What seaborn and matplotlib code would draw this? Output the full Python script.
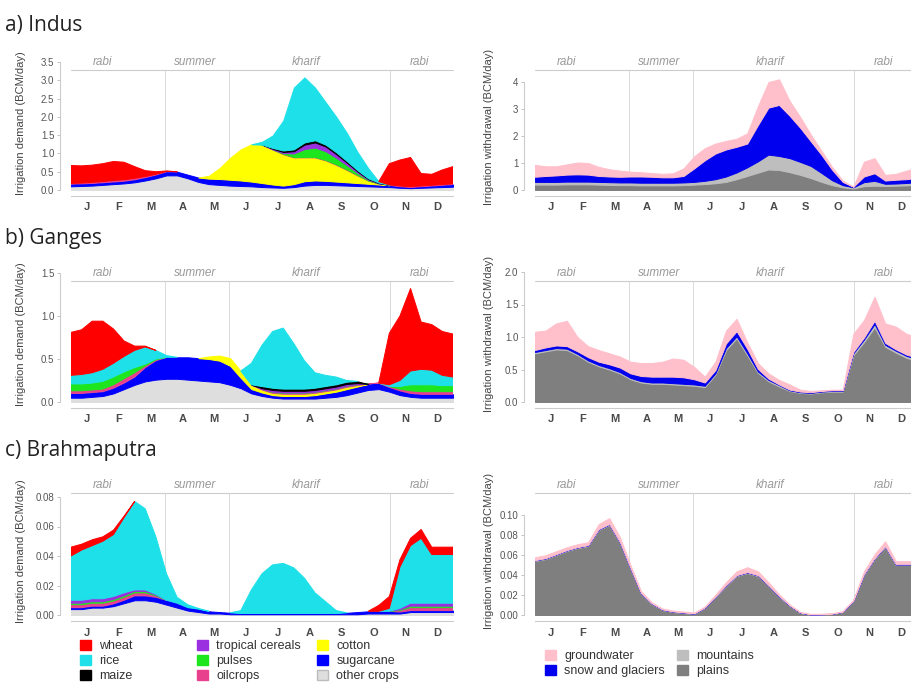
import numpy as np
import matplotlib
matplotlib.use("Agg")
import matplotlib.pyplot as plt
import seaborn as sns
from matplotlib.patches import Patch
from matplotlib.ticker import FormatStrFormatter

sns.set_theme(style="white")
plt.rcParams["font.family"] = ["Liberation Sans", "DejaVu Sans"]

# sampling: every third of a month from 1 Jan to 31 Dec (37 points)
t = np.linspace(0, 12, 37)
month_labels = ["J", "F", "M", "A", "M", "J", "J", "A", "S", "O", "N", "D"]
season_names = ["rabi", "summer", "kharif", "rabi"]
season_pos = [1.0, 3.9, 7.4, 10.95]
season_bounds = [2.95, 4.95, 10.02]

# stacking order bottom -> top
crop_names = ["other crops", "sugarcane", "cotton", "oilcrops", "pulses",
              "tropical cereals", "maize", "rice", "wheat"]
crop_colors = ["#dedede", "#0000ff", "#ffff00", "#e8408c", "#1ee61e",
               "#9a30e0", "#000000", "#1ee0e8", "#ff0000"]
source_names = ["plains", "mountains", "snow and glaciers", "groundwater"]
source_colors = ["#7f7f7f", "#bebebe", "#0000ee", "#ffc0cb"]

# ---------------- a) Indus ----------------
indus_other = [0.10, 0.11, 0.12, 0.14, 0.16, 0.18, 0.21, 0.26, 0.32, 0.40, 0.40, 0.32,
               0.22, 0.16, 0.14, 0.12, 0.11, 0.10, 0.08, 0.07, 0.06, 0.08, 0.12, 0.14,
               0.14, 0.13, 0.12, 0.11, 0.10, 0.09, 0.08, 0.06, 0.05, 0.06, 0.07, 0.08, 0.09]
indus_sugarcane = [0.06, 0.06, 0.06, 0.06, 0.06, 0.06, 0.07, 0.08, 0.09, 0.10, 0.10, 0.10,
                   0.12, 0.15, 0.16, 0.16, 0.15, 0.13, 0.11, 0.08, 0.06, 0.08, 0.12, 0.12,
                   0.11, 0.10, 0.09, 0.08, 0.07, 0.06, 0.05, 0.03, 0.02, 0.03, 0.04, 0.05, 0.06]
indus_cotton = [0, 0, 0, 0, 0, 0, 0, 0, 0, 0, 0, 0,
                0, 0.08, 0.30, 0.60, 0.85, 1.02, 1.05, 0.95, 0.85, 0.72, 0.64, 0.62,
                0.55, 0.45, 0.33, 0.20, 0.08, 0.02, 0, 0, 0, 0, 0, 0, 0]
indus_oilcrops = [0.02, 0.02, 0.03, 0.03, 0.04, 0.04, 0.04, 0.03, 0.02, 0.01, 0, 0,
                  0, 0, 0, 0, 0, 0, 0, 0.01, 0.02, 0.02, 0.02, 0.02,
                  0.02, 0.02, 0.02, 0.02, 0.01, 0.01, 0.01, 0.02, 0.02, 0.02, 0.02, 0.02, 0.02]
indus_pulses = [0, 0, 0, 0, 0, 0, 0, 0, 0, 0, 0, 0,
                0, 0, 0, 0, 0, 0, 0, 0, 0.02, 0.10, 0.22, 0.26,
                0.24, 0.18, 0.12, 0.06, 0.02, 0, 0, 0, 0, 0, 0, 0, 0]
indus_tropical = [0, 0, 0, 0, 0, 0, 0, 0, 0, 0, 0, 0,
                  0, 0, 0, 0, 0, 0, 0, 0.02, 0.03, 0.06, 0.12, 0.14,
                  0.13, 0.10, 0.07, 0.04, 0.02, 0.01, 0, 0, 0, 0, 0, 0, 0]
indus_maize = [0, 0, 0, 0, 0, 0, 0, 0, 0, 0, 0, 0,
               0, 0, 0, 0, 0, 0, 0, 0.02, 0.04, 0.05, 0.06, 0.06,
               0.05, 0.05, 0.04, 0.03, 0.02, 0.01, 0, 0, 0, 0, 0, 0, 0]
indus_rice = [0, 0, 0, 0, 0, 0, 0, 0, 0, 0, 0, 0,
              0, 0, 0, 0, 0, 0, 0.08, 0.34, 0.82, 1.69, 1.78, 1.44,
              1.16, 0.97, 0.77, 0.50, 0.28, 0.03, 0, 0, 0, 0, 0, 0, 0]
indus_wheat = [0.49, 0.47, 0.47, 0.49, 0.52, 0.48, 0.32, 0.16, 0.07, 0.01, 0, 0,
               0, 0, 0, 0, 0, 0, 0, 0, 0, 0, 0, 0,
               0, 0, 0, 0, 0, 0, 0.58, 0.71, 0.80, 0.34, 0.30, 0.40, 0.47]

indus_plains = [0.20, 0.20, 0.20, 0.21, 0.21, 0.21, 0.20, 0.19, 0.18, 0.18, 0.17, 0.17,
                0.17, 0.17, 0.18, 0.20, 0.22, 0.25, 0.30, 0.40, 0.52, 0.64, 0.76, 0.74,
                0.66, 0.56, 0.44, 0.30, 0.18, 0.10, 0.06, 0.14, 0.16, 0.15, 0.16, 0.17, 0.19]
indus_mountains = [0.10, 0.10, 0.10, 0.10, 0.10, 0.10, 0.10, 0.10, 0.10, 0.10, 0.10, 0.10,
                   0.10, 0.10, 0.10, 0.10, 0.12, 0.15, 0.20, 0.25, 0.32, 0.42, 0.55, 0.52,
                   0.52, 0.48, 0.45, 0.33, 0.18, 0.08, 0.04, 0.15, 0.18, 0.08, 0.08, 0.09, 0.10]
indus_snow = [0.19, 0.22, 0.24, 0.26, 0.27, 0.26, 0.22, 0.21, 0.21, 0.22, 0.23, 0.22,
              0.20, 0.20, 0.24, 0.50, 0.76, 0.95, 1.00, 0.95, 0.88, 1.34, 1.74, 1.89,
              1.57, 1.26, 0.91, 0.67, 0.39, 0.12, 0.02, 0.21, 0.28, 0.12, 0.14, 0.14, 0.16]
indus_ground = [0.44, 0.36, 0.34, 0.38, 0.44, 0.43, 0.34, 0.27, 0.23, 0.18, 0.16, 0.14,
                0.13, 0.15, 0.28, 0.45, 0.45, 0.37, 0.32, 0.30, 0.38, 0.70, 0.95, 0.95,
                0.55, 0.40, 0.25, 0.15, 0.10, 0.05, 0.01, 0.55, 0.56, 0.21, 0.22, 0.32, 0.37]

# ---------------- b) Ganges ----------------
ganges_other = [0.05, 0.05, 0.06, 0.07, 0.10, 0.15, 0.20, 0.24, 0.26, 0.27, 0.27, 0.26,
                0.25, 0.24, 0.23, 0.20, 0.16, 0.10, 0.07, 0.05, 0.04, 0.04, 0.04, 0.04,
                0.05, 0.06, 0.08, 0.11, 0.14, 0.15, 0.12, 0.08, 0.06, 0.05, 0.05, 0.05, 0.05]
ganges_sugarcane = [0.05, 0.05, 0.05, 0.05, 0.06, 0.07, 0.09, 0.16, 0.22, 0.25, 0.25, 0.26,
                    0.26, 0.26, 0.25, 0.22, 0.12, 0.05, 0.04, 0.03, 0.03, 0.03, 0.03, 0.04,
                    0.05, 0.06, 0.07, 0.07, 0.07, 0.07, 0.05, 0.05, 0.04, 0.04, 0.04, 0.04, 0.04]
ganges_cotton = [0, 0, 0, 0, 0, 0, 0, 0, 0, 0, 0, 0,
                 0, 0.03, 0.06, 0.09, 0.08, 0.05, 0.03, 0.02, 0.02, 0.02, 0.02, 0.02,
                 0.02, 0.02, 0.02, 0.01, 0, 0, 0, 0, 0, 0, 0, 0, 0]
ganges_oilcrops = [0.03, 0.03, 0.03, 0.03, 0.04, 0.05, 0.05, 0.02, 0.01, 0, 0, 0,
                   0, 0, 0, 0, 0, 0, 0.01, 0.01, 0.01, 0.01, 0.01, 0.01,
                   0.01, 0.01, 0.01, 0.01, 0, 0, 0.01, 0.02, 0.03, 0.03, 0.03, 0.03, 0.03]
ganges_pulses = [0.08, 0.08, 0.08, 0.09, 0.09, 0.08, 0.06, 0.02, 0.01, 0, 0, 0,
                 0, 0, 0, 0, 0, 0, 0, 0.01, 0.01, 0.01, 0.01, 0.01,
                 0.01, 0.01, 0.01, 0.01, 0, 0, 0, 0.03, 0.07, 0.08, 0.08, 0.07, 0.07]
ganges_tropical = [0, 0, 0, 0, 0, 0, 0, 0, 0, 0, 0, 0,
                   0, 0, 0, 0, 0, 0, 0.01, 0.02, 0.02, 0.02, 0.02, 0.02,
                   0.02, 0.02, 0.02, 0.01, 0, 0, 0, 0, 0, 0, 0, 0, 0]
ganges_maize = [0, 0, 0, 0, 0, 0, 0, 0, 0, 0, 0, 0,
                0, 0, 0, 0, 0, 0, 0.02, 0.02, 0.02, 0.02, 0.02, 0.02,
                0.02, 0.02, 0.02, 0.02, 0, 0, 0, 0, 0, 0, 0, 0, 0]
ganges_rice = [0.10, 0.11, 0.12, 0.14, 0.16, 0.18, 0.20, 0.20, 0.10, 0.02, 0, 0,
               0, 0, 0, 0, 0, 0.25, 0.48, 0.66, 0.71, 0.53, 0.33, 0.18,
               0.13, 0.09, 0.02, 0, 0, 0, 0.02, 0.07, 0.16, 0.18, 0.17, 0.12, 0.10]
ganges_wheat = [0.50, 0.52, 0.60, 0.56, 0.40, 0.18, 0.05, 0.01, 0, 0, 0, 0,
                0, 0, 0, 0, 0, 0, 0, 0, 0, 0, 0, 0,
                0, 0, 0, 0, 0, 0, 0.60, 0.75, 0.96, 0.55, 0.53, 0.51, 0.50]

ganges_plains = [0.75, 0.78, 0.81, 0.80, 0.72, 0.62, 0.55, 0.50, 0.44, 0.35, 0.30, 0.28,
                 0.28, 0.27, 0.26, 0.25, 0.23, 0.42, 0.80, 0.98, 0.72, 0.45, 0.32, 0.24,
                 0.17, 0.14, 0.13, 0.15, 0.16, 0.16, 0.72, 0.92, 1.15, 0.85, 0.76, 0.68, 0.63]
ganges_mountains = [0.02, 0.02, 0.02, 0.02, 0.02, 0.02, 0.02, 0.02, 0.02, 0.02, 0.02, 0.02,
                    0.02, 0.02, 0.02, 0.02, 0.02, 0.02, 0.03, 0.03, 0.03, 0.02, 0.02, 0.02,
                    0.01, 0.01, 0.01, 0.01, 0.01, 0.01, 0.03, 0.04, 0.05, 0.03, 0.03, 0.03, 0.03]
ganges_snow = [0.03, 0.04, 0.04, 0.04, 0.04, 0.05, 0.05, 0.06, 0.07, 0.07, 0.08, 0.09,
               0.09, 0.10, 0.10, 0.08, 0.05, 0.05, 0.07, 0.08, 0.07, 0.04, 0.02, 0.01,
               0.01, 0.01, 0.01, 0.01, 0.01, 0.01, 0.02, 0.03, 0.05, 0.03, 0.02, 0.02, 0.02]
ganges_ground = [0.28, 0.26, 0.34, 0.39, 0.22, 0.17, 0.18, 0.17, 0.17, 0.18, 0.20, 0.21,
                 0.23, 0.28, 0.27, 0.19, 0.09, 0.13, 0.20, 0.19, 0.10, 0.09, 0.08, 0.07,
                 0.08, 0.03, 0.02, 0.01, 0.01, 0.01, 0.28, 0.27, 0.37, 0.30, 0.35, 0.32, 0.32]

# ---------------- c) Brahmaputra ----------------
brahma_other = [0.004, 0.004, 0.005, 0.005, 0.006, 0.008, 0.010, 0.010, 0.009, 0.007, 0.005, 0.003,
                0.002, 0.001, 0.001, 0.0005, 0.0005, 0.0005, 0.0005, 0.0005, 0.0005, 0.0005, 0.0005, 0.0005,
                0.0005, 0.0005, 0.0005, 0.0005, 0.001, 0.001, 0.001, 0.001, 0.002, 0.002, 0.002, 0.002, 0.002]
brahma_sugarcane = [0.001, 0.001, 0.001, 0.001, 0.0015, 0.002, 0.003, 0.003, 0.003, 0.003, 0.003, 0.002,
                    0.002, 0.0015, 0.001, 0.001, 0.0005, 0.0005, 0.0005, 0.0005, 0.0005, 0.0005, 0.0005, 0.0005,
                    0.0005, 0.0005, 0.001, 0.0015, 0.0015, 0.0015, 0.0015, 0.001, 0.001, 0.001, 0.001, 0.001, 0.001]
brahma_cotton = [0, 0, 0, 0, 0, 0, 0, 0, 0, 0, 0, 0,
                 0, 0, 0, 0, 0, 0, 0, 0, 0, 0, 0, 0,
                 0, 0, 0, 0, 0, 0, 0, 0, 0, 0, 0, 0, 0]
brahma_oilcrops = [0.002, 0.002, 0.002, 0.002, 0.002, 0.002, 0.002, 0.002, 0.001, 0, 0, 0,
                   0, 0, 0, 0, 0, 0, 0, 0, 0, 0, 0, 0,
                   0, 0, 0, 0, 0, 0, 0, 0.001, 0.002, 0.002, 0.002, 0.002, 0.002]
brahma_pulses = [0.001, 0.001, 0.001, 0.001, 0.001, 0.001, 0.001, 0.001, 0.0005, 0, 0, 0,
                 0, 0, 0, 0, 0, 0, 0, 0, 0, 0, 0, 0,
                 0, 0, 0, 0, 0, 0, 0, 0.0005, 0.001, 0.001, 0.001, 0.001, 0.001]
brahma_tropical = [0.002, 0.002, 0.002, 0.002, 0.002, 0.002, 0.001, 0.001, 0.0005, 0, 0, 0,
                   0, 0, 0, 0, 0, 0, 0, 0, 0, 0, 0, 0,
                   0, 0, 0, 0, 0, 0, 0, 0.001, 0.002, 0.002, 0.002, 0.002, 0.002]
brahma_maize = [0, 0, 0, 0, 0, 0, 0, 0, 0, 0, 0, 0,
                0, 0, 0, 0, 0, 0, 0, 0, 0, 0, 0, 0,
                0, 0, 0, 0, 0, 0, 0, 0, 0, 0, 0, 0, 0]
brahma_rice = [0.030, 0.034, 0.036, 0.039, 0.042, 0.051, 0.060, 0.055, 0.039, 0.018, 0.004, 0.002,
               0.0005, 0, 0, 0, 0.002, 0.016, 0.027, 0.033, 0.034, 0.031, 0.024, 0.014,
               0.008, 0.002, 0, 0, 0, 0, 0.002, 0.028, 0.039, 0.044, 0.033, 0.033, 0.033]
brahma_wheat = [0.006, 0.004, 0.004, 0.003, 0.003, 0.001, 0, 0, 0, 0, 0, 0,
                0, 0, 0, 0, 0, 0, 0, 0, 0, 0, 0, 0,
                0, 0, 0, 0, 0, 0.004, 0.008, 0.005, 0.005, 0.006, 0.005, 0.005, 0.005]

brahma_plains = [0.054, 0.056, 0.060, 0.064, 0.067, 0.069, 0.085, 0.090, 0.072, 0.046, 0.021, 0.011,
                 0.005, 0.003, 0.002, 0.001, 0.007, 0.018, 0.029, 0.039, 0.042, 0.039, 0.029, 0.018,
                 0.009, 0.002, 0.0003, 0.0005, 0.001, 0.003, 0.014, 0.040, 0.056, 0.068, 0.050, 0.050, 0.050]
brahma_mountains = [0.0005, 0.0005, 0.0005, 0.0005, 0.0005, 0.0005, 0.0005, 0.0005, 0.0005, 0.0005, 0.0005, 0.0005,
                    0.0003, 0.0003, 0.0003, 0.0003, 0.0003, 0.0003, 0.0005, 0.0005, 0.0005, 0.0005, 0.0005, 0.0005,
                    0.0003, 0.0003, 0.0002, 0.0002, 0.0002, 0.0002, 0.0003, 0.0005, 0.0005, 0.0005, 0.0005, 0.0005, 0.0005]
brahma_snow = [0.0003, 0.0003, 0.0003, 0.0003, 0.0003, 0.0003, 0.0004, 0.0004, 0.0004, 0.0003, 0.0002, 0.0002,
               0.0002, 0.0002, 0.0002, 0.0002, 0.0002, 0.0002, 0.0003, 0.0003, 0.0003, 0.0003, 0.0003, 0.0003,
               0.0002, 0.0002, 0.0001, 0.0001, 0.0001, 0.0001, 0.0002, 0.0003, 0.0003, 0.0003, 0.0003, 0.0003, 0.0003]
brahma_ground = [0.003, 0.003, 0.003, 0.003, 0.003, 0.003, 0.005, 0.006, 0.005, 0.003, 0.002, 0.001,
                 0.001, 0.001, 0.001, 0.001, 0.001, 0.002, 0.003, 0.004, 0.005, 0.004, 0.003, 0.002,
                 0.001, 0.0005, 0.0005, 0.0005, 0.0005, 0.0005, 0.001, 0.003, 0.004, 0.005, 0.003, 0.003, 0.003]

W, H = 912, 686
fig = plt.figure(figsize=(W / 100, H / 100), dpi=100)


def panel(x0, p0, top_val, top_px, line_px, step, fmt, series, colors, ylab, lab_x):
    # p0: pixel row of zero, top_px: pixel row of the highest tick, line_px: season line
    k = (p0 - top_px) / top_val
    ax_top = min(top_px, line_px) - 6
    ax = fig.add_axes([x0 / W, 1 - p0 / H, 382 / W, (p0 - ax_top) / H])
    # offset spines first: moving a spine resets its ticks
    sns.despine(ax=ax, offset={"left": 8, "bottom": 4})
    ax.set_xlim(0, 12)
    ax.set_ylim(0, (p0 - ax_top) / k)
    sy = (p0 - line_px) / k

    for b in season_bounds:
        ax.plot([b, b], [0, sy], color="#dadada", lw=0.7, zorder=0)
    ax.plot([0, 12], [sy, sy], color="#cccccc", lw=0.8, zorder=0, clip_on=False)
    for name, pos in zip(season_names, season_pos):
        ax.annotate(name, (pos, sy), xytext=(0, 5.5), textcoords="offset points",
                    ha="center", va="center", fontsize=8.5, style="italic",
                    color="#999999", annotation_clip=False)

    base = np.zeros(len(t))
    for s, c in zip(series, colors):
        s = np.asarray(s, dtype=float)
        on = s > 0
        mask = on | np.r_[on[1:], False] | np.r_[False, on[:-1]]
        ax.fill_between(t, base, base + s, where=mask, facecolor=c, edgecolor=c,
                        lw=0.7, zorder=2)
        base = base + s

    ax.set_xticks(np.arange(12) + 0.5)
    ax.set_xticklabels(month_labels, fontweight="bold")
    ax.tick_params(axis="x", length=0, pad=5, labelsize=8, labelcolor="#4a4a4a")
    ax.set_yticks(np.arange(0, top_val + step / 2, step))
    ax.yaxis.set_major_formatter(FormatStrFormatter(fmt))
    ax.tick_params(axis="y", labelsize=7, labelcolor="#555555", length=2.5,
                   width=0.6, color="#bbbbbb", pad=1.5, left=True)
    for sp in ("left", "bottom"):
        ax.spines[sp].set_color("#cccccc")
        ax.spines[sp].set_linewidth(0.8)
    ax.spines["left"].set_bounds(0, top_val)
    ax.set_ylabel(ylab, fontsize=8, color="#444444")
    ax.yaxis.set_label_coords(lab_x, 0.5)
    return ax


dem = "Irrigation demand (BCM/day)"
wd = "Irrigation withdrawal (BCM/day)"

indus_crops = [indus_other, indus_sugarcane, indus_cotton, indus_oilcrops, indus_pulses,
               indus_tropical, indus_maize, indus_rice, indus_wheat]
ganges_crops = [ganges_other, ganges_sugarcane, ganges_cotton, ganges_oilcrops, ganges_pulses,
                ganges_tropical, ganges_maize, ganges_rice, ganges_wheat]
brahma_crops = [brahma_other, brahma_sugarcane, brahma_cotton, brahma_oilcrops, brahma_pulses,
                brahma_tropical, brahma_maize, brahma_rice, brahma_wheat]

panel(71, 190, 3.5, 62, 70, 0.5, "%.1f", indus_crops, crop_colors, dem, -0.118)
panel(535, 190, 4, 82, 70, 1, "%.0f",
      [indus_plains, indus_mountains, indus_snow, indus_ground], source_colors, wd, -0.107)
panel(71, 402, 1.5, 273, 281, 0.5, "%.1f", ganges_crops, crop_colors, dem, -0.118)
panel(535, 402, 2.0, 272, 281, 0.5, "%.1f",
      [ganges_plains, ganges_mountains, ganges_snow, ganges_ground], source_colors, wd, -0.107)
panel(71, 615, 0.08, 497, 493, 0.02, "%.2f", brahma_crops, crop_colors, dem, -0.118)
panel(535, 615, 0.10, 515, 493, 0.02, "%.2f",
      [brahma_plains, brahma_mountains, brahma_snow, brahma_ground], source_colors, wd, -0.107)

for label, y in [("a) Indus", 31), ("b) Ganges", 244), ("c) Brahmaputra", 456)]:
    fig.text(5 / W, 1 - y / H, label, fontsize=15, color="#222222", va="baseline",
             family=["Open Sans", "DejaVu Sans"])


def column_legend(names, colors, x_px, y_px):
    handles = [Patch(facecolor=c, edgecolor=c if c != "#dedede" else "#bbbbbb") for c in colors]
    fig.legend(handles, names, loc="upper left", bbox_to_anchor=(x_px / W, 1 - y_px / H),
               frameon=False, fontsize=9, handlelength=0.85, handleheight=0.85,
               handletextpad=0.7, labelspacing=0.2, borderpad=0, borderaxespad=0,
               labelcolor="#333333")


cc = dict(zip(crop_names, crop_colors))
column_legend(["wheat", "rice", "maize"], [cc["wheat"], cc["rice"], cc["maize"]], 80, 640)
column_legend(["tropical cereals", "pulses", "oilcrops"],
              [cc["tropical cereals"], cc["pulses"], cc["oilcrops"]], 197, 640)
column_legend(["cotton", "sugarcane", "other crops"],
              [cc["cotton"], cc["sugarcane"], cc["other crops"]], 317, 640)
sc = dict(zip(source_names, source_colors))
column_legend(["groundwater", "snow and glaciers"], [sc["groundwater"], sc["snow and glaciers"]], 545, 650)
column_legend(["mountains", "plains"], [sc["mountains"], sc["plains"]], 677, 650)

fig.savefig("out.png", dpi=100)
